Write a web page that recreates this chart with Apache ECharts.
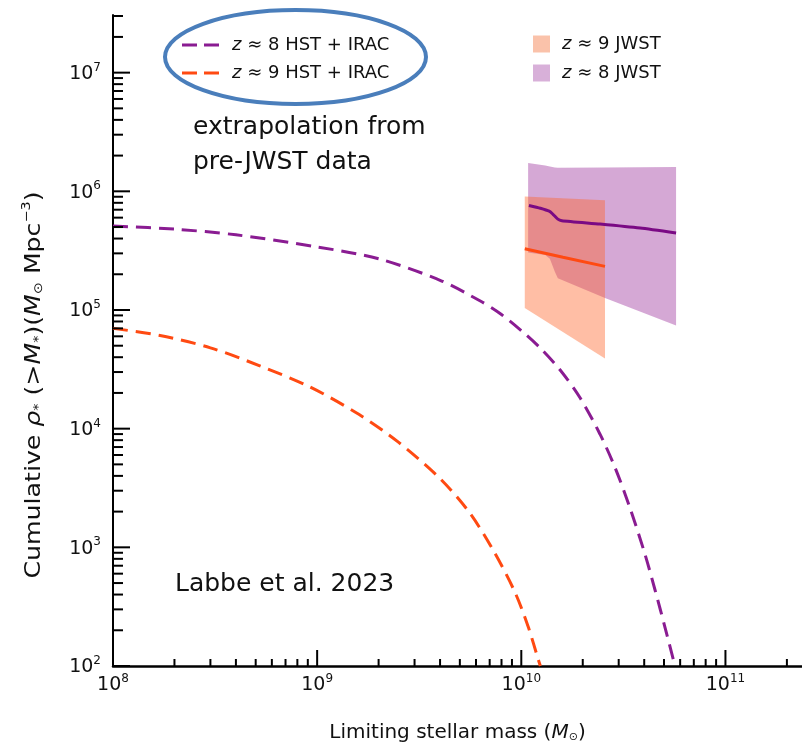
<!DOCTYPE html>
<html>
<head>
<meta charset="utf-8">
<script src="https://cdn.jsdelivr.net/npm/echarts@6/dist/echarts.min.js"></script>
<style>
html,body{margin:0;padding:0;background:#fff;}
#chart{width:802px;height:748px;}
</style>
</head>
<body>
<div id="chart"></div>
<script>
// ---- data ----
const xTickExponents = [8, 9, 10, 11];
const yTickExponents = [2, 3, 4, 5, 6, 7];
const xMajorTicks = [1e8, 1e9, 1e10, 1e11];
const xMinorTicks = [2e8,3e8,4e8,5e8,6e8,7e8,8e8,9e8, 2e9,3e9,4e9,5e9,6e9,7e9,8e9,9e9, 2e10,3e10,4e10,5e10,6e10,7e10,8e10,9e10, 2e11];
const yMajorTicks = [1e2, 1e3, 1e4, 1e5, 1e6, 1e7];
const yMinorTicks = [2e2,3e2,4e2,5e2,6e2,7e2,8e2,9e2, 2e3,3e3,4e3,5e3,6e3,7e3,8e3,9e3, 2e4,3e4,4e4,5e4,6e4,7e4,8e4,9e4, 2e5,3e5,4e5,5e5,6e5,7e5,8e5,9e5, 2e6,3e6,4e6,5e6,6e6,7e6,8e6,9e6, 2e7,3e7];

const z8HstMass = [1e8, 2e8, 4e8, 1e9, 2e9, 4e9, 6.3e9, 7.9e9, 1e10, 1.23e10, 1.55e10, 1.94e10, 2.43e10, 2.88e10, 3.41e10, 4.04e10, 4.52e10, 5.06e10, 5.66e10];
const z8HstRho  = [5.1e5, 4.8e5, 4.3e5, 3.4e5, 2.7e5, 1.78e5, 1.19e5, 9.3e4, 6.7e4, 4.84e4, 3.12e4, 1.82e4, 8.98e3, 4.69e3, 2.14e3, 869, 437, 211, 100];

const z9HstMass = [1e8, 1.7e8, 3e8, 5.2e8, 9.2e8, 1.6e9, 2.5e9, 4e9, 5.6e9, 7.4e9, 9.3e9, 1.08e10, 1.21e10, 1.24e10];
const z9HstRho  = [7.0e4, 6.1e4, 4.8e4, 3.4e4, 2.25e4, 1.32e4, 7.7e3, 3.8e3, 1.94e3, 900, 420, 215, 114, 100];

const z8JwstMass = [1.09e10, 1.24e10, 1.37e10, 1.43e10, 1.51e10, 1.58e10, 2.43e10, 3.82e10, 5.73e10];
const z8JwstRho  = [7.6e5, 7.2e5, 6.8e5, 6.4e5, 5.83e5, 5.66e5, 5.3e5, 4.9e5, 4.46e5];

const z9JwstMass = [1.04e10, 1.6e10, 2.57e10];
const z9JwstRho  = [3.28e5, 2.78e5, 2.33e5];

const z8BandMass = [1.08e10, 1.31e10, 1.38e10, 1.46e10, 1.51e10, 2.57e10, 5.73e10];
const z8BandHigh = [1.73e6, 1.65e6, 1.62e6, 1.59e6, 1.58e6, 1.59e6, 1.6e6];
const z8BandLow  = [3.05e5, 2.9e5, 2.7e5, 2.1e5, 1.85e5, 1.26e5, 7.4e4];

const z9BandMass = [1.04e10, 2.57e10];
const z9BandHigh = [9.06e5, 8.4e5];
const z9BandLow  = [1.04e5, 3.9e4];

const seriesNames = ['z ≈ 8 HST + IRAC', 'z ≈ 9 HST + IRAC', 'z ≈ 9 JWST', 'z ≈ 8 JWST'];

// ---- chart ----
const FONT = 'DejaVu Sans';
const X_MIN = 1e8, X_MAX = Math.pow(10, 11.375);
const Y_MIN = 1e2, Y_MAX = 3.06e7;
const DASH_ICON = 'path://M0,0H15V3H0Z M22,0H37V3H22Z';

function zip(a, b) { return a.map((v, i) => [v, b[i]]); }

function labelFmt(exps) {
  return function (v) {
    const e = Math.log10(v);
    const r = Math.round(e);
    if (Math.abs(e - r) > 1e-6 || exps.indexOf(r) < 0) return '';
    return '{b|10}{s|' + r + '}';
  };
}
const tickRich = {
  b: { fontFamily: FONT, fontSize: 19, color: '#111', lineHeight: 22, verticalAlign: 'bottom' },
  s: { fontFamily: FONT, fontSize: 12, color: '#111', lineHeight: 12, verticalAlign: 'top' }
};

function bandSeries(name, mass, high, low, fill, z) {
  return {
    name: name, type: 'custom', z: z, silent: true,
    itemStyle: { color: fill },
    data: [[mass[0], high[0]]],
    renderItem: function (params, api) {
      const pts = [];
      for (let i = 0; i < mass.length; i++) pts.push(api.coord([mass[i], high[i]]));
      for (let i = mass.length - 1; i >= 0; i--) pts.push(api.coord([mass[i], low[i]]));
      return { type: 'polygon', shape: { points: pts }, style: { fill: fill, stroke: null } };
    }
  };
}

function tickSeries(list, axis, len) {
  return {
    type: 'custom', silent: true, z: 10, clip: false,
    data: list.map(v => axis === 'x' ? [v, Y_MIN] : [X_MIN, v]),
    renderItem: function (params, api) {
      const p = api.coord([api.value(0), api.value(1)]);
      const shape = axis === 'x'
        ? { x1: p[0], y1: p[1], x2: p[0], y2: p[1] - len }
        : { x1: p[0], y1: p[1], x2: p[0] + len, y2: p[1] };
      return { type: 'line', shape: shape, style: { stroke: '#000', lineWidth: 2 } };
    }
  };
}

const legendRich = {
  i: { fontFamily: FONT, fontSize: 18, fontStyle: 'italic', color: '#111', lineHeight: 20 },
  n: { fontFamily: FONT, fontSize: 18, color: '#111', lineHeight: 20 }
};

const chart = echarts.init(document.getElementById('chart'), null, { renderer: 'canvas' });
chart.setOption({
  animation: false,
  backgroundColor: '#fff',
  grid: { left: 113, right: 0, top: 15, bottom: 73 },
  xAxis: {
    type: 'log', logBase: 10, min: X_MIN, max: X_MAX,
    axisLine: { show: true, lineStyle: { color: '#000', width: 2.5 } },
    axisTick: { show: false }, splitLine: { show: false }, minorTick: { show: false },
    axisLabel: { formatter: labelFmt(xTickExponents), margin: 7, rich: tickRich, showMinLabel: true, showMaxLabel: false },
    name: '{n|Limiting stellar mass (}{i|M}{sub|⊙}{n|)}',
    nameLocation: 'middle', nameGap: 53,
    nameTextStyle: {
      rich: {
        n: { fontFamily: FONT, fontSize: 20, color: '#111', lineHeight: 24, verticalAlign: 'bottom' },
        i: { fontFamily: FONT, fontSize: 20, color: '#111', fontStyle: 'italic', lineHeight: 24, verticalAlign: 'bottom' },
        sub: { fontFamily: FONT, fontSize: 11, color: '#111', lineHeight: 10, verticalAlign: 'bottom' }
      }
    }
  },
  yAxis: {
    type: 'log', logBase: 10, min: Y_MIN, max: Y_MAX,
    axisLine: { show: true, lineStyle: { color: '#000', width: 2 } },
    axisTick: { show: false }, splitLine: { show: false }, minorTick: { show: false },
    axisLabel: { formatter: labelFmt(yTickExponents), margin: 12, rich: tickRich, showMaxLabel: false }
  },
  legend: [
    {
      orient: 'vertical', left: 177, top: 31, itemWidth: 37, itemHeight: 3, itemGap: 10,
      data: [
        { name: seriesNames[0], icon: DASH_ICON, itemStyle: { color: '#8A1C92' } },
        { name: seriesNames[1], icon: DASH_ICON, itemStyle: { color: '#FF4A12' } }
      ],
      formatter: n => '{i|z}{n|' + n.slice(1) + '}',
      textStyle: { padding: [0, 0, 0, 8], rich: legendRich }
    },
    {
      orient: 'vertical', left: 528, top: 30, itemWidth: 17, itemHeight: 17, itemGap: 11,
      data: [
        { name: seriesNames[2], icon: 'rect', itemStyle: { color: '#FAC2AA' } },
        { name: seriesNames[3], icon: 'rect', itemStyle: { color: '#D8B0D9' } }
      ],
      formatter: n => '{i|z}{n|' + n.slice(1) + '}',
      textStyle: { padding: [0, 0, 0, 7], rich: legendRich }
    }
  ],
  graphic: [
    { type: 'ellipse', shape: { cx: 295.5, cy: 57, rx: 130.5, ry: 47 },
      style: { fill: 'none', stroke: '#4A7EBB', lineWidth: 4 }, z: 100 },
    { type: 'text', x: 193, y: 110, z: 100,
      style: { text: 'extrapolation from\npre-JWST data', font: '25px "DejaVu Sans"', fill: '#111', lineHeight: 35, verticalAlign: 'top' } },
    { type: 'text', x: 175, y: 584, z: 100,
      style: { text: 'Labbe et al. 2023', font: '25px "DejaVu Sans"', fill: '#111', verticalAlign: 'middle' } },
    { type: 'text', x: 33, y: 385, rotation: Math.PI / 2, scaleX: 1.2, z: 100,
      style: {
        text: '{n|Cumulative }{i|ρ}{sub|*}{n| (>}{i|M}{sub|*}{n|)(}{i|M}{sub|⊙}{n| Mpc}{sup|−3}{n|)}',
        align: 'center', verticalAlign: 'middle',
        rich: {
          n: { fontFamily: FONT, fontSize: 21, fill: '#111', lineHeight: 24, verticalAlign: 'bottom' },
          i: { fontFamily: FONT, fontSize: 21, fill: '#111', fontStyle: 'italic', lineHeight: 24, verticalAlign: 'bottom' },
          sub: { fontFamily: FONT, fontSize: 12, fill: '#111', lineHeight: 10, verticalAlign: 'bottom' },
          sup: { fontFamily: FONT, fontSize: 12, fill: '#111', lineHeight: 12, verticalAlign: 'top' }
        }
      } }
  ],
  series: [
    bandSeries(seriesNames[3], z8BandMass, z8BandHigh, z8BandLow, 'rgba(140,20,140,0.37)', 1),
    bandSeries(seriesNames[2], z9BandMass, z9BandHigh, z9BandLow, 'rgba(255,100,40,0.42)', 2),
    {
      name: seriesNames[0], type: 'line', z: 5, smooth: 0.3, symbol: 'none',
      data: zip(z8HstMass, z8HstRho),
      itemStyle: { color: '#8A1C92' },
      lineStyle: { color: '#8A1C92', width: 3, type: [15, 8] }
    },
    {
      name: seriesNames[1], type: 'line', z: 5, smooth: 0.3, symbol: 'none',
      data: zip(z9HstMass, z9HstRho),
      itemStyle: { color: '#FF4A12' },
      lineStyle: { color: '#FF4A12', width: 3, type: [15, 8] }
    },
    {
      name: 'z8jwstMedian', type: 'line', z: 6, symbol: 'none', smooth: 0.2,
      data: zip(z8JwstMass, z8JwstRho),
      lineStyle: { color: '#7A0A84', width: 3 }
    },
    {
      name: 'z9jwstMedian', type: 'line', z: 6, symbol: 'none',
      data: zip(z9JwstMass, z9JwstRho),
      lineStyle: { color: '#FF4A12', width: 3 }
    },
    tickSeries(xMajorTicks, 'x', 16),
    tickSeries(xMinorTicks, 'x', 7),
    tickSeries(yMajorTicks, 'y', 17),
    tickSeries(yMinorTicks, 'y', 10)
  ]
});
</script>
</body>
</html>
